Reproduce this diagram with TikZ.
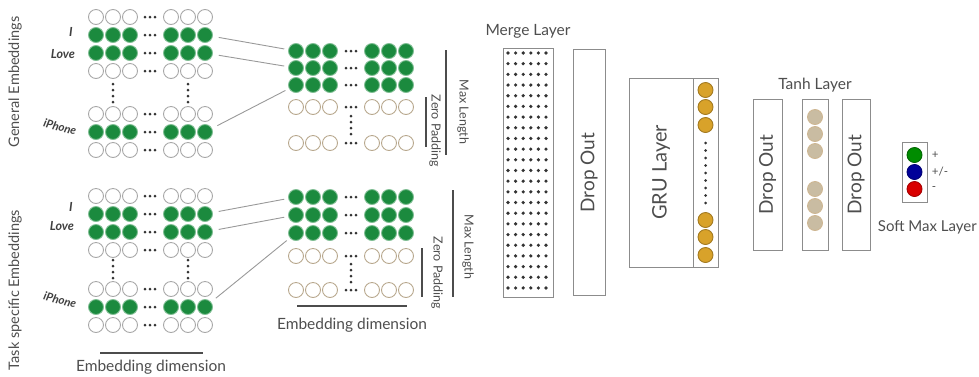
\documentclass[tikz,border=0pt]{standalone}
\usepackage{fontspec}
\setmainfont{Lato}
\usetikzlibrary{positioning}
\definecolor{leafg}{HTML}{1B8A3E}
\definecolor{ringg}{HTML}{A8A8A8}
\definecolor{padring}{HTML}{B8A88E}
\definecolor{goldu}{HTML}{D8A22A}
\definecolor{tanu}{HTML}{C9BCA2}
\definecolor{txtg}{HTML}{4E4E4E}
\definecolor{boxg}{HTML}{8C8C8C}
\newcommand{\fsz}[1]{\fontsize{#1}{#1}\selectfont}

\begin{document}
\begin{tikzpicture}[x=1pt,y=-1pt,text=txtg]
\tikzstyle{cell}=[circle,draw,line width=0.9pt,minimum size=15pt,inner sep=0pt]
\tikzstyle{box}=[draw=boxg,line width=0.8pt,inner sep=0pt,outer sep=0pt]
\tikzstyle{bar}=[line width=1.8pt,draw=black!70]
\tikzstyle{link}=[draw=black!40,line width=0.9pt,shorten <=6pt,shorten >=4pt]
\tikzstyle{word}=[font=\fsz{12.5}\bfseries\itshape,text=black!75,inner sep=0pt]
\tikzstyle{note}=[font=\fsz{12.5},inner sep=0pt]
\useasboundingbox (0,0) rectangle (979,376);

% general embeddings
\foreach \r/\y/\f/\d in {1/17/white/ringg,2/35/leafg/leafg!55,3/53/leafg/leafg!55,4/71/white/ringg,
  5/114/white/ringg,6/132/leafg/leafg!55,7/150/white/ringg}
{
  \foreach \c/\x in {1/96,2/113,3/130,4/171,5/188,6/205}
    \node[cell,fill=\f,draw=\d] (gen-\r-\c) at (\x,\y) {};
  \foreach \x in {145,150,155} \fill[black!80] (\x,\y) circle (1.5pt);
}
\foreach \x in {113,188} \foreach \y in {84,90,96,102} \fill[black!80] (\x,\y) circle (1.5pt);

% task specific embeddings
\foreach \r/\y/\f/\d in {1/196/white/ringg,2/214/leafg/leafg!55,3/232/leafg/leafg!55,4/250/white/ringg,
  5/289/white/ringg,6/307/leafg/leafg!55,7/325/white/ringg}
{
  \foreach \c/\x in {1/96,2/113,3/130,4/171,5/188,6/205}
    \node[cell,fill=\f,draw=\d] (task-\r-\c) at (\x,\y) {};
  \foreach \x in {145,150,155} \fill[black!80] (\x,\y) circle (1.5pt);
}
\foreach \x in {113,188} \foreach \y in {260,266,272,278} \fill[black!80] (\x,\y) circle (1.5pt);

\node[word] (gen-i) at (71,32) {I};
\node[word] (gen-love) at (63,54) {Love};
\node[word,font=\fsz{11.5}\bfseries\itshape,rotate=-15] (gen-iphone) at (60,127) {iPhone};
\node[word] (task-i) at (71,207) {I};
\node[word] (task-love) at (62,226) {Love};
\node[word,font=\fsz{11.5}\bfseries\itshape,rotate=-15] (task-iphone) at (60,300) {iPhone};

\node[rotate=90,font=\fsz{14.5}] (gen-title) at (15,82) {General Embeddings};
\node[rotate=90,font=\fsz{14.5}] (task-title) at (15,290) {Task specific Embeddings};

% padded sequences
\foreach \r/\y/\f/\d in {1/51/leafg/leafg!55,2/68/leafg/leafg!55,3/85/leafg/leafg!55,4/107/white/padring,5/143/white/padring}
{
  \foreach \c/\x in {1/296,2/313,3/330,4/372,5/389,6/406}
    \node[cell,fill=\f,draw=\d] (pad-\r-\c) at (\x,\y) {};
  \foreach \x in {346,351,356} \fill[black!80] (\x,\y) circle (1.5pt);
}
\foreach \y in {116,122,128,134} \fill[black!80] (351,\y) circle (1.5pt);

\foreach \r/\y/\f/\d in {1/197/leafg/leafg!55,2/215/leafg/leafg!55,3/233/leafg/leafg!55,4/256/white/padring,5/290/white/padring}
{
  \foreach \c/\x in {1/296,2/313,3/330,4/372,5/389,6/406}
    \node[cell,fill=\f,draw=\d] (tpad-\r-\c) at (\x,\y) {};
  \foreach \x in {346,351,356} \fill[black!80] (\x,\y) circle (1.5pt);
}
\foreach \y in {264,270,276,282} \fill[black!80] (351,\y) circle (1.5pt);

\draw[link] (gen-2-6) -- (pad-1-1);
\draw[link] (gen-3-6) -- (pad-2-1);
\draw[link] (gen-6-6) -- (pad-3-1);
\draw[link] (task-2-6) -- (tpad-1-1);
\draw[link] (task-3-6) -- (tpad-2-1);
\draw[link] (task-6-6) -- (tpad-3-1);

% length and dimension marks
\draw[bar] (446,50) -- (446,155);
\node[note,rotate=-90] (maxlen-a) at (463,112) {Max Length};
\draw[bar] (426,97) -- (426,147);
\node[note,rotate=-90] (zeropad-a) at (435,131) {Zero Padding};
\draw[bar] (453,190) -- (453,297);
\node[note,rotate=-90] (maxlen-b) at (468,247) {Max Length};
\draw[bar] (422,248) -- (422,297);
\node[note,rotate=-90] (zeropad-b) at (437,273) {Zero Padding};
\draw[bar] (297,306) -- (407,306);
\node[font=\fsz{15.5}] (dim-b) at (352,325) {Embedding dimension};
\draw[bar] (100,353) -- (203,353);
\node[font=\fsz{15.5}] (dim-a) at (151,367) {Embedding dimension};

% merge and dropout
\node[box,minimum width=50pt,minimum height=249pt] (merge) at (528,172.5) {};
\foreach \i in {0,...,5} \foreach \j in {0,...,22}
  \fill[black!80] ({508+7.6*\i},{53+10.68*\j}) circle (1.8pt);
\node[font=\fsz{15.5},above=6pt of merge] (merge-txt) {Merge Layer};
\node[box,minimum width=32pt,minimum height=246pt,right=20pt of merge] (dropa) {};
\node[rotate=90,font=\fsz{19}] (dropa-txt) at (dropa) {Drop Out};

% gru
\node[box,minimum width=64pt,minimum height=189pt,right=24pt of dropa] (gru) {};
\node[rotate=90,font=\fsz{20}] (gru-txt) at (gru) {GRU Layer};
\node[box,minimum width=25pt,minimum height=189pt,right=0pt of gru] (gruout) {};
\foreach \i/\y in {1/90,2/107,3/125,4/220,5/237,6/255}
  \node[cell,fill=goldu,draw=goldu!75!black] (gru-\i) at (705.5,\y) {};
\foreach \y in {143,150.5,...,204} \fill[black!80] (705.5,\y) circle (1.5pt);

% tanh block
\node[box,minimum width=29pt,minimum height=151pt] (dropb) at (767.5,174.5) {};
\node[rotate=90,font=\fsz{19}] (dropb-txt) at (dropb) {Drop Out};
\node[box,minimum width=26pt,minimum height=151pt,right=20pt of dropb] (tanh) {};
\foreach \i/\y in {1/117,2/134,3/151,4/189,5/206,6/223}
  \node[cell,fill=tanu,draw=tanu!90!orange] (tanh-\i) at (815,\y) {};
\node[font=\fsz{15.5},above=3pt of tanh] (tanh-txt) {Tanh Layer};
\node[box,minimum width=28pt,minimum height=151pt,right=14pt of tanh] (dropc) {};
\node[rotate=90,font=\fsz{19}] (dropc-txt) at (dropc) {Drop Out};

% softmax
\node[box,minimum width=25pt,minimum height=60pt] (smax) at (914.5,172) {};
\node[cell,fill=green!55!black,draw=green!40!black] (smax-pos) at (914.5,155) {};
\node[cell,fill=blue!60!black,draw=blue!45!black] (smax-neu) at (914.5,172) {};
\node[cell,fill=red!85!black,draw=red!65!black] (smax-neg) at (914.5,189) {};
\node[font=\fsz{11.5},right=6pt of smax-pos] (pos-txt) {+};
\node[font=\fsz{11.5},right=6pt of smax-neu] (neu-txt) {+/-};
\node[font=\fsz{11.5},right=6pt of smax-neg] (neg-txt) {-};
\node[font=\fsz{15},anchor=east,inner sep=1pt] (smax-txt) at (978,227) {Soft Max Layer};
\end{tikzpicture}
\end{document}
